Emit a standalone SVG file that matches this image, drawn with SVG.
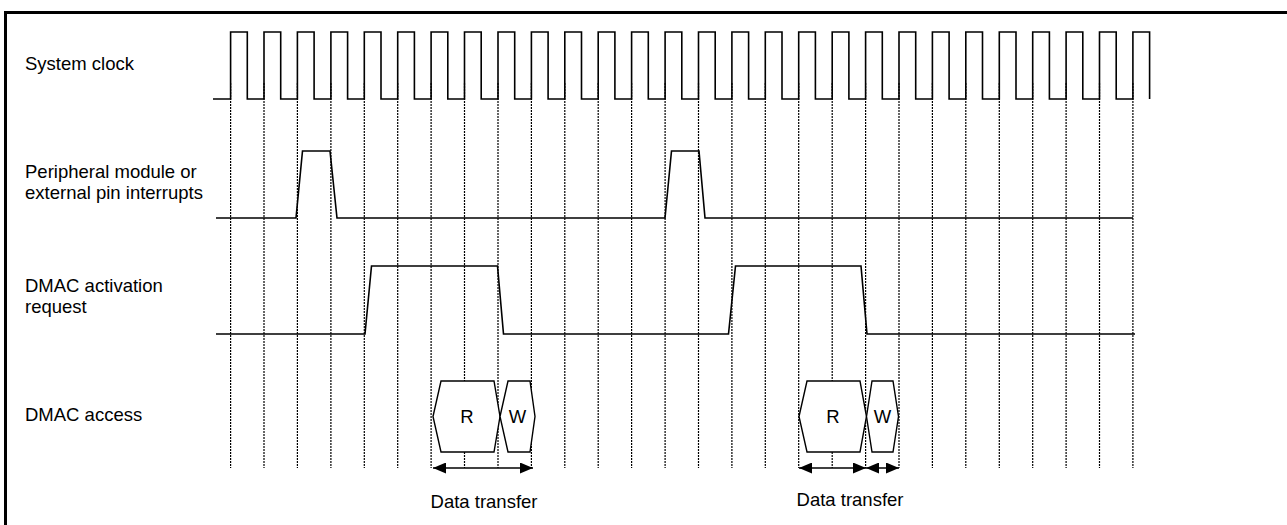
<svg xmlns="http://www.w3.org/2000/svg" width="1287" height="525" viewBox="0 0 1287 525">
  <style>
    .lbl { font-family: "Liberation Sans", Arial, sans-serif; font-size: 18.5px; fill: #000; }
    .ctr { text-anchor: middle; }
    .sig { fill: none; stroke: #000; stroke-width: 1.6; stroke-linejoin: miter; }
    .grid { fill: none; stroke: #000; stroke-width: 1.2; stroke-dasharray: 2 1; }
    .hex { fill: #fff; stroke: #000; stroke-width: 1.4; }
    .arr { stroke: #000; stroke-width: 1.7; marker-start: url(#ah); marker-end: url(#ah); }
  </style>
  <defs>
    <marker id="ah" viewBox="0 0 13 11" refX="13" refY="5.5" markerWidth="13" markerHeight="11" markerUnits="userSpaceOnUse" orient="auto-start-reverse">
      <path d="M0,0 L13,5.5 L0,11 z" fill="#000"/>
    </marker>
  </defs>
  <rect width="1287" height="525" fill="#fff"/>
  <path d="M5.5,525 V12.5 H1287" fill="none" stroke="#000" stroke-width="3"/>

  <g id="labels">
    <text class="lbl" x="25" y="70">System clock</text>
    <text class="lbl" x="25" y="178">Peripheral module or</text>
    <text class="lbl" x="25" y="199">external pin interrupts</text>
    <text class="lbl" x="25" y="292">DMAC activation</text>
    <text class="lbl" x="25" y="313">request</text>
    <text class="lbl" x="25" y="421">DMAC access</text>
  </g>

  <g id="grid">
    <path class="grid" d="M230.6,83 V468 M264.0,83 V468 M297.4,83 V468 M330.9,83 V468 M364.3,83 V468 M397.7,83 V468 M431.1,83 V468 M464.5,83 V468 M498.0,83 V468 M531.4,83 V468 M564.8,83 V468 M598.2,83 V468 M631.6,83 V468 M665.1,83 V468 M698.5,83 V468 M731.9,83 V468 M765.3,83 V468 M798.7,83 V468 M832.2,83 V468 M865.6,83 V468 M899.0,83 V468 M932.4,83 V468 M965.8,83 V468 M999.3,83 V468 M1032.7,83 V468 M1066.1,83 V468 M1099.5,83 V468 M1132.9,83 V468"/>
  </g>

  <g id="system-clock">
    <path class="sig" d="M213,99 H230.6 V32 H247.3 V99 H264.0 V32 H280.7 V99 H297.4 V32 H314.1 V99 H330.9 V32 H347.6 V99 H364.3 V32 H381.0 V99 H397.7 V32 H414.4 V99 H431.1 V32 H447.8 V99 H464.5 V32 H481.2 V99 H498.0 V32 H514.7 V99 H531.4 V32 H548.1 V99 H564.8 V32 H581.5 V99 H598.2 V32 H614.9 V99 H631.6 V32 H648.3 V99 H665.1 V32 H681.8 V99 H698.5 V32 H715.2 V99 H731.9 V32 H748.6 V99 H765.3 V32 H782.0 V99 H798.7 V32 H815.4 V99 H832.2 V32 H848.9 V99 H865.6 V32 H882.3 V99 H899.0 V32 H915.7 V99 H932.4 V32 H949.1 V99 H965.8 V32 H982.5 V99 H999.3 V32 H1016.0 V99 H1032.7 V32 H1049.4 V99 H1066.1 V32 H1082.8 V99 H1099.5 V32 H1116.2 V99 H1132.9 V32 H1149.6 V99"/>
  </g>

  <g id="interrupts">
    <path class="sig" d="M216,218 H296 L302.5,151 H330 L337,218 H665 L671.5,151 H699 L705,218 H1133"/>
  </g>

  <g id="dmac-request">
    <path class="sig" d="M216,334 H365 L371.5,266 H497.5 L503.5,334 H728.5 L735.5,266 H861 L867,334 H1135"/>
  </g>

  <g id="access-1">
    <polygon class="hex" points="433,416.5 441,381 494,381 500,416.5 494,452 441,452"/>
    <polygon class="hex" points="500,416.5 508,381 530,381 535,416.5 530,452 508,452"/>
    <text class="lbl ctr" x="467" y="423">R</text>
    <text class="lbl ctr" x="517.5" y="423">W</text>
  </g>

  <g id="access-2">
    <polygon class="hex" points="799,416.5 807,381 860,381 866.5,416.5 860,452 807,452"/>
    <polygon class="hex" points="866.5,416.5 872,381 893,381 898.5,416.5 893,452 872,452"/>
    <text class="lbl ctr" x="833" y="423">R</text>
    <text class="lbl ctr" x="882.5" y="423">W</text>
  </g>

  <g id="connectors">
    <line class="arr" x1="433" y1="468" x2="533" y2="468"/>
    <line class="arr" x1="799" y1="468" x2="866" y2="468"/>
    <line class="arr" x1="866" y1="468" x2="899" y2="468"/>
  </g>

  <g id="transfer-labels">
    <text class="lbl ctr" x="484" y="508">Data transfer</text>
    <text class="lbl ctr" x="850" y="506">Data transfer</text>
  </g>
</svg>
